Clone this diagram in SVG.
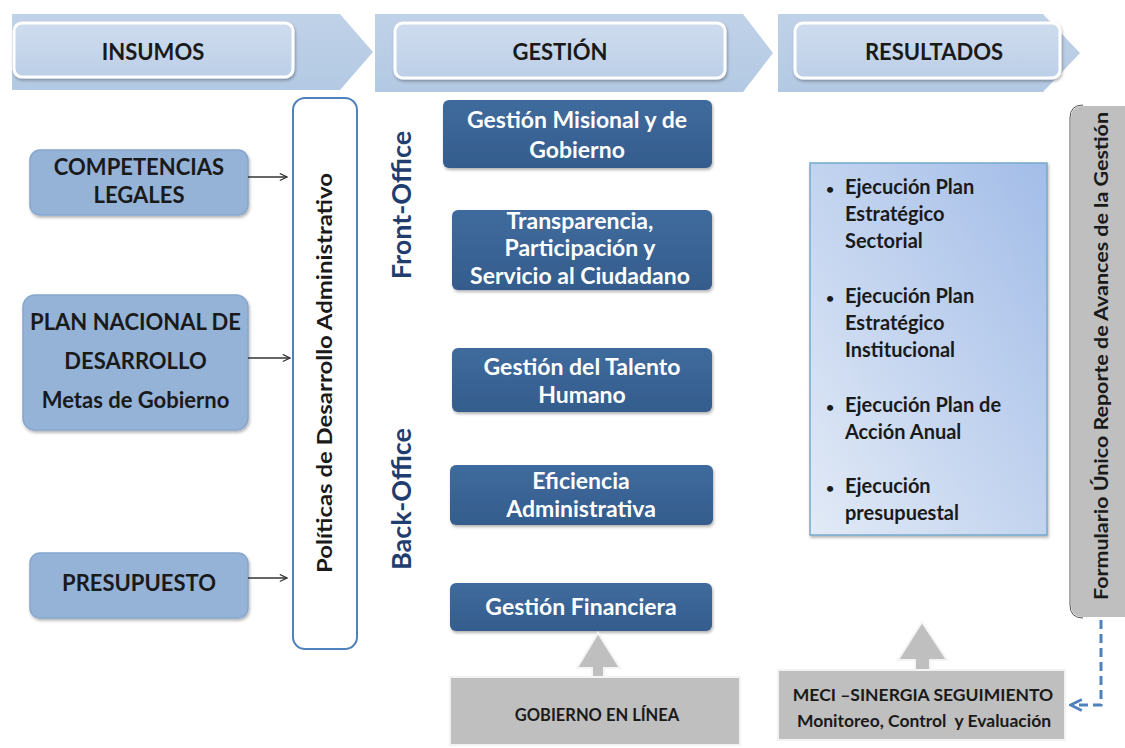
<svg xmlns="http://www.w3.org/2000/svg" width="1125" height="748" viewBox="0 0 1125 748">
<defs>
<linearGradient id="chev" x1="0" y1="0" x2="0" y2="1"><stop offset="0" stop-color="#c0d2e8"/><stop offset="1" stop-color="#b3c9e3"/></linearGradient>
<linearGradient id="hbox" x1="0" y1="0" x2="0" y2="1"><stop offset="0" stop-color="#cfdcee"/><stop offset="1" stop-color="#bccfe7"/></linearGradient>
<linearGradient id="dark" x1="0" y1="0" x2="0" y2="1"><stop offset="0" stop-color="#3f6b9d"/><stop offset="1" stop-color="#345c8c"/></linearGradient>
<linearGradient id="res" x1="1" y1="0" x2="0" y2="1"><stop offset="0" stop-color="#a3bde8"/><stop offset="1" stop-color="#e2eaf6"/></linearGradient>
<filter id="sh" x="-10%" y="-10%" width="120%" height="130%"><feDropShadow dx="1" dy="2" stdDeviation="1.5" flood-color="#000" flood-opacity="0.3"/></filter>
<marker id="ah" viewBox="0 0 10 10" refX="9" refY="5" markerWidth="9" markerHeight="9" orient="auto" markerUnits="userSpaceOnUse"><path d="M1,1 L9,5 L1,9" fill="none" stroke="#333" stroke-width="1.3"/></marker>
<marker id="ahb" viewBox="0 0 10 10" refX="8" refY="5" markerWidth="14" markerHeight="14" orient="auto" markerUnits="userSpaceOnUse"><path d="M1,1 L9,5 L1,9" fill="none" stroke="#4f81bd" stroke-width="2"/></marker>
</defs>
<style>
text{font-family:Lato,"Open Sans","Liberation Sans",sans-serif;font-weight:bold}
.hd{font-size:22px;fill:#1a1a1a;text-anchor:middle}
.lb{fill:#95b3d7;stroke:#86a6cd;stroke-width:1.5}
.lt{font-size:22px;fill:#1a1a1a;text-anchor:middle}
.db{fill:url(#dark)}
.dt{font-size:23px;fill:#ffffff;text-anchor:middle}
.gb{fill:#bfbfbf}
.gt{font-size:16.5px;fill:#1a1a1a;text-anchor:middle}
.mt{font-size:17.5px;fill:#1a1a1a;text-anchor:middle}
.rt{font-size:20px;fill:#1a1a1a}
.off{font-size:27px;fill:#1f3d6e;text-anchor:middle}
</style>
<rect width="1125" height="748" fill="#ffffff"/>

<g id="header">
<path d="M12,14 H340 L373,52 L340,90 H12 Z" fill="url(#chev)"/>
<path d="M375,14 H743 L773,53 L743,92 H375 Z" fill="url(#chev)"/>
<path d="M778,14 H1043 L1080,53 L1043,92 H778 Z" fill="url(#chev)"/>
<rect x="14" y="23" width="279" height="54" rx="8" fill="url(#hbox)" stroke="#ffffff" stroke-width="3" filter="url(#sh)"/>
<rect x="395" y="23" width="330" height="55" rx="8" fill="url(#hbox)" stroke="#ffffff" stroke-width="3" filter="url(#sh)"/>
<rect x="795" y="23" width="265" height="55" rx="8" fill="url(#hbox)" stroke="#ffffff" stroke-width="3" filter="url(#sh)"/>
<text class="hd" x="153" y="60">INSUMOS</text>
<text class="hd" x="560" y="60">GESTIÓN</text>
<text class="hd" x="934" y="60">RESULTADOS</text>
</g>

<g id="competencias">
<rect class="lb" x="30" y="150" width="218" height="65" rx="10" filter="url(#sh)"/>
<text class="lt" x="139" y="175">COMPETENCIAS</text>
<text class="lt" x="139" y="203">LEGALES</text>
</g>
<g id="plan">
<rect class="lb" x="23" y="295" width="225" height="135" rx="12" filter="url(#sh)"/>
<text class="lt" x="135.5" y="330">PLAN NACIONAL DE</text>
<text class="lt" x="135.5" y="369">DESARROLLO</text>
<text class="lt" x="135.5" y="408">Metas de Gobierno</text>
</g>
<g id="presupuesto">
<rect class="lb" x="30" y="553" width="218" height="65" rx="10" filter="url(#sh)"/>
<text class="lt" x="139" y="591">PRESUPUESTO</text>
</g>

<g id="politicas">
<rect x="293" y="98" width="64" height="551" rx="12" fill="#ffffff" stroke="#4f81bd" stroke-width="2"/>
<text transform="translate(332,373) rotate(-90)" x="0" y="0" text-anchor="middle" font-size="20" fill="#1a1a1a" textLength="400" lengthAdjust="spacingAndGlyphs">Políticas de Desarrollo Administrativo</text>
</g>

<g id="front-office"><text class="off" transform="translate(411,205) rotate(-90)">Front-Office</text></g>
<g id="back-office"><text class="off" transform="translate(411,499) rotate(-90)">Back-Office</text></g>

<g id="g-misional">
<rect class="db" x="443" y="100" width="269" height="68" rx="6" filter="url(#sh)"/>
<text class="dt" x="577" y="128">Gestión Misional y de</text>
<text class="dt" x="577" y="158">Gobierno</text>
</g>
<g id="g-transparencia">
<rect class="db" x="452" y="210" width="260" height="80" rx="6" filter="url(#sh)"/>
<text class="dt" x="580" y="229">Transparencia,</text>
<text class="dt" x="580" y="256">Participación y</text>
<text class="dt" x="580" y="284">Servicio al Ciudadano</text>
</g>
<g id="g-talento">
<rect class="db" x="452" y="348" width="260" height="64" rx="6" filter="url(#sh)"/>
<text class="dt" x="582" y="375">Gestión del Talento</text>
<text class="dt" x="582" y="403">Humano</text>
</g>
<g id="g-eficiencia">
<rect class="db" x="450" y="465" width="263" height="60" rx="6" filter="url(#sh)"/>
<text class="dt" x="581" y="489">Eficiencia</text>
<text class="dt" x="581" y="517">Administrativa</text>
</g>
<g id="g-financiera">
<rect class="db" x="450" y="583" width="262" height="48" rx="6" filter="url(#sh)"/>
<text class="dt" x="581" y="615">Gestión Financiera</text>
</g>

<g id="gobierno-linea">
<rect class="gb" x="450" y="677" width="290" height="68" stroke="#f2f2f2" stroke-width="2"/>
<text class="gt" x="597" y="721">GOBIERNO EN LÍNEA</text>
</g>

<g id="resultados">
<rect x="810" y="163" width="237" height="372" fill="url(#res)" stroke="#74aacb" stroke-width="1.5" filter="url(#sh)"/>
<text x="826" y="194" font-size="14" fill="#1a1a1a">•</text>
<text class="rt" x="845" y="194">Ejecución Plan</text>
<text class="rt" x="845" y="221">Estratégico</text>
<text class="rt" x="845" y="248">Sectorial</text>
<text x="826" y="303" font-size="14" fill="#1a1a1a">•</text>
<text class="rt" x="845" y="303">Ejecución Plan</text>
<text class="rt" x="845" y="330">Estratégico</text>
<text class="rt" x="845" y="357">Institucional</text>
<text x="826" y="412" font-size="14" fill="#1a1a1a">•</text>
<text class="rt" x="845" y="412">Ejecución Plan de</text>
<text class="rt" x="845" y="439">Acción Anual</text>
<text x="826" y="493" font-size="14" fill="#1a1a1a">•</text>
<text class="rt" x="845" y="493">Ejecución</text>
<text class="rt" x="845" y="520">presupuestal</text>
</g>

<g id="formulario">
<path d="M1130,105 H1083 Q1070,105 1070,118 V605 Q1070,618 1083,618 H1130 Z" fill="#bfbfbf" stroke="#ffffff" stroke-width="2"/>
<path d="M1083,105 Q1070,105 1070,118 V605 Q1070,618 1083,618" fill="none" stroke="#555" stroke-width="1"/>
<text transform="translate(1108,356) rotate(-90)" text-anchor="middle" font-size="19" fill="#1a1a1a" textLength="488" lengthAdjust="spacingAndGlyphs">Formulario Único Reporte de Avances de la Gestión</text>
</g>

<g id="meci">
<rect class="gb" x="778" y="670" width="287" height="70" stroke="#f2f2f2" stroke-width="2"/>
<text class="mt" x="923" y="701">MECI –SINERGIA SEGUIMIENTO</text>
<text class="mt" x="924" y="727" xml:space="preserve">Monitoreo, Control  y Evaluación</text>
</g>

<g id="connectors">
<line x1="248" y1="177" x2="287" y2="177" stroke="#333" stroke-width="1.3" marker-end="url(#ah)"/>
<line x1="248" y1="358" x2="290" y2="358" stroke="#333" stroke-width="1.3" marker-end="url(#ah)"/>
<line x1="248" y1="578" x2="287" y2="578" stroke="#333" stroke-width="1.3" marker-end="url(#ah)"/>
<path d="M598,633 L620,668 L604,668 L604,677 L592,677 L592,668 L577,668 Z" fill="#bfbfbf" stroke="#f4f4f4" stroke-width="2"/>
<path d="M922,622 L947,660 L930,660 L930,670 L915,670 L915,660 L898,660 Z" fill="#bfbfbf" stroke="#f4f4f4" stroke-width="2"/>
<path d="M1101,620 V705 H1072" fill="none" stroke="#4f81bd" stroke-width="3" stroke-dasharray="9,5" marker-end="url(#ahb)"/>
</g>
</svg>
